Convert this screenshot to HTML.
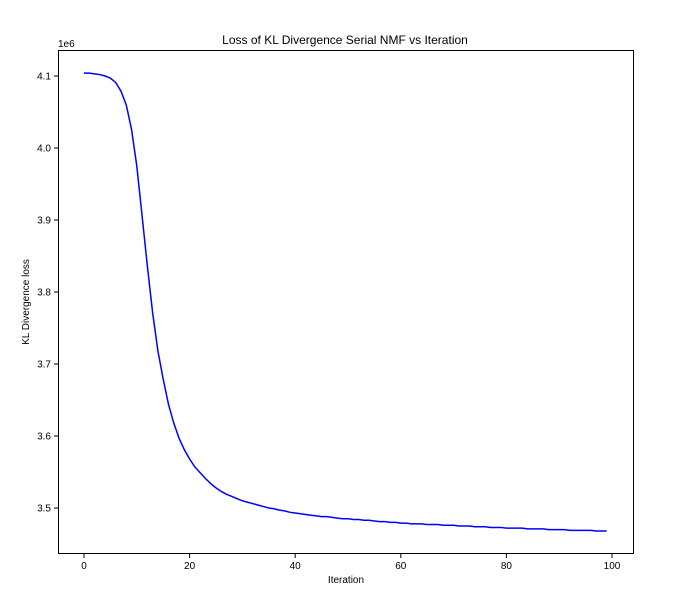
<!DOCTYPE html>
<html><head><meta charset="utf-8"><style>
body{margin:0;background:#fff}
svg{display:block;font-family:"Liberation Sans","DejaVu Sans",sans-serif}
</style></head><body>
<svg id="chart" width="691" height="604">
<rect width="691" height="604" fill="#fff"/>
<text x="345" y="44" text-anchor="middle" font-size="12">Loss of KL Divergence Serial NMF vs Iteration</text>
<text x="58" y="47" font-size="10">1e6</text>
<text x="346" y="583" text-anchor="middle" font-size="10">Iteration</text>
<text transform="translate(29,302) rotate(-90)" text-anchor="middle" font-size="10">KL Divergence loss</text>
<g id="ticks"></g>
<path id="line" fill="none" stroke="#0000ff" stroke-width="1.5"/>
<rect x="58.5" y="50.5" width="575" height="503" fill="none" stroke="#000" stroke-width="1"/>
</svg>
<script>
const xTicks=[0,20,40,60,80,100];
const yTicks=[3.5,3.6,3.7,3.8,3.9,4.0,4.1];
const yTickLabels=["3.5","3.6","3.7","3.8","3.9","4.0","4.1"];
const losses=[4.104,4.104,4.103,4.102,4.100,4.097,4.091,4.079,4.060,4.026,
3.975,3.906,3.836,3.771,3.718,3.679,3.644,3.618,3.597,3.581,
3.568,3.557,3.549,3.541,3.534,3.528,3.523,3.519,3.516,3.513,
3.510,3.508,3.506,3.504,3.502,3.500,3.499,3.497,3.496,3.494,
3.493,3.492,3.491,3.490,3.489,3.488,3.488,3.487,3.486,3.485,
3.485,3.484,3.484,3.483,3.483,3.482,3.481,3.481,3.480,3.480,
3.479,3.479,3.478,3.478,3.478,3.477,3.477,3.477,3.476,3.476,
3.476,3.475,3.475,3.475,3.474,3.474,3.474,3.473,3.473,3.473,
3.472,3.472,3.472,3.472,3.471,3.471,3.471,3.471,3.470,3.470,
3.470,3.470,3.469,3.469,3.469,3.469,3.469,3.468,3.468,3.468];
const xs=i=>84+i*5.28;
const ys=v=>76+(4.1-v)*720;
const NS="http://www.w3.org/2000/svg";
const g=document.getElementById('ticks');
xTicks.forEach(t=>{
  const l=document.createElementNS(NS,'line');
  l.setAttribute('x1',xs(t));l.setAttribute('x2',xs(t));l.setAttribute('y1',554);l.setAttribute('y2',558);l.setAttribute('stroke','#000');
  
  
  g.appendChild(l);
  const tx=document.createElementNS(NS,'text');
  tx.setAttribute('x',xs(t));tx.setAttribute('y',569);tx.setAttribute('text-anchor','middle');tx.setAttribute('font-size','10');
  tx.textContent=t;
  
  
  g.appendChild(tx);
});
yTicks.forEach((t,i)=>{
  const l=document.createElementNS(NS,'line');
  l.setAttribute('x1',54);l.setAttribute('x2',58);l.setAttribute('y1',ys(t));l.setAttribute('y2',ys(t));l.setAttribute('stroke','#000');
  
  
  g.appendChild(l);
  const tx=document.createElementNS(NS,'text');
  tx.setAttribute('x',51);tx.setAttribute('y',ys(t)+3.5);tx.setAttribute('text-anchor','end');tx.setAttribute('font-size','10');
  tx.textContent=yTickLabels[i];
  
  
  g.appendChild(tx);
});
document.getElementById('line').setAttribute('d',losses.map((v,i)=>(i?'L':'M')+xs(i).toFixed(2)+','+ys(v).toFixed(2)).join(''));
</script>
</body></html>
